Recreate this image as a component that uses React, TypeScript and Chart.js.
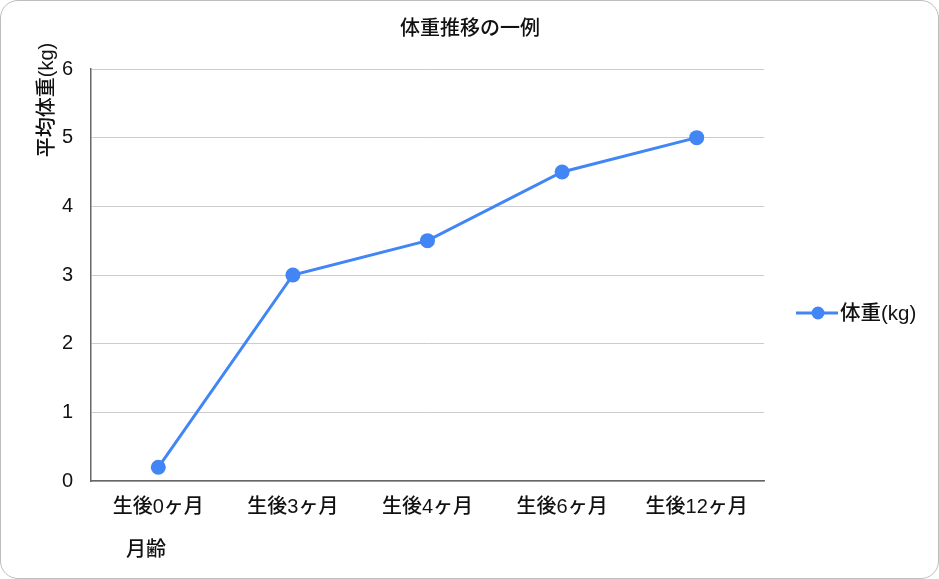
import React, { useEffect, useRef } from "react";
import { Chart, registerables } from "chart.js";

Chart.register(...registerables);

const categories = ["生後0ヶ月", "生後3ヶ月", "生後4ヶ月", "生後6ヶ月", "生後12ヶ月"];
const weights = [0.2, 3.0, 3.5, 4.5, 5.0];
const seriesName = "体重(kg)";
const chartTitle = "体重推移の一例";
const yTitle = "平均体重(kg)";
const xTitle = "月齢";
const yMin = 0;
const yMax = 6;
const yStep = 1;

const FONT = '"Liberation Sans", "Noto Sans CJK JP", sans-serif';
const BLUE = "#4285F4";
const TEXT = "#111111";

const textPlugin = {
  id: "customText",
  afterDraw(chart: any) {
    const ctx = chart.ctx as CanvasRenderingContext2D;
    ctx.save();
    ctx.fillStyle = TEXT;
    ctx.textBaseline = "middle";
    // title
    ctx.font = `500 20px ${FONT}`;
    ctx.textAlign = "center";
    ctx.fillText(chartTitle, 470, 29);
    // x title
    ctx.fillText(xTitle, 146, 550);
    // y title
    ctx.save();
    ctx.translate(47, 100);
    ctx.rotate(-Math.PI / 2);
    ctx.fillText(yTitle, 0, 0);
    ctx.restore();
    // legend
    const ds = chart.data.datasets[0];
    const ly = 313;
    ctx.strokeStyle = ds.borderColor;
    ctx.lineWidth = 3;
    ctx.beginPath();
    ctx.moveTo(796, ly);
    ctx.lineTo(838, ly);
    ctx.stroke();
    ctx.fillStyle = ds.pointBackgroundColor;
    ctx.beginPath();
    ctx.arc(818, ly, 6.5, 0, Math.PI * 2);
    ctx.fill();
    ctx.fillStyle = TEXT;
    ctx.textAlign = "left";
    ctx.font = `500 20.5px ${FONT}`;
    ctx.fillText(ds.label, 840, ly + 1);
    ctx.restore();
  },
};

export default function App() {
  const ref = useRef<HTMLCanvasElement | null>(null);
  useEffect(() => {
    if (!ref.current) return;
    const chart = new Chart(ref.current, {
      type: "line",
      data: {
        labels: categories,
        datasets: [
          {
            label: seriesName,
            data: weights,
            borderColor: BLUE,
            backgroundColor: BLUE,
            pointBackgroundColor: BLUE,
            pointBorderColor: BLUE,
            borderWidth: 3,
            pointRadius: 7.5,
            pointBorderWidth: 0,
            tension: 0,
          },
        ],
      },
      options: {
        animation: false,
        responsive: false,
        devicePixelRatio: 1,
        layout: { padding: { left: 0, right: 175, top: 69, bottom: 0 } },
        plugins: {
          legend: { display: false },
          title: { display: false },
          tooltip: { enabled: false },
        },
        scales: {
          x: {
            offset: true,
            grid: { display: false, drawTicks: false },
            border: { display: true, color: "#666666", width: 1.5 },
            ticks: {
              color: TEXT,
              font: { family: FONT, size: 20, weight: "500" },
              padding: 14,
              maxRotation: 0,
              autoSkip: false,
            },
            afterFit(scale: any) {
              scale.height = 98;
            },
          },
          y: {
            min: yMin,
            max: yMax,
            ticks: {
              stepSize: yStep,
              color: TEXT,
              font: { family: FONT, size: 20, weight: "500" },
              padding: 18,
            },
            grid: { color: "#cccccc", lineWidth: 1, drawTicks: false },
            border: { display: true, color: "#666666", width: 1.5 },
            afterFit(scale: any) {
              scale.width = 91;
            },
          },
        },
      },
      plugins: [textPlugin],
    });
    return () => chart.destroy();
  }, []);

  return (
    <div style={{ position: "absolute", left: 0, top: 0, width: 939, height: 579, background: "#ffffff" }}>
      <canvas ref={ref} width={939} height={579} style={{ width: 939, height: 579, display: "block" }} />
      <div
        style={{
          position: "absolute",
          left: 0,
          top: 0,
          width: 939,
          height: 579,
          boxSizing: "border-box",
          border: "1.5px solid #bdbdbd",
          borderRadius: 18,
          pointerEvents: "none",
        }}
      />
    </div>
  );
}
